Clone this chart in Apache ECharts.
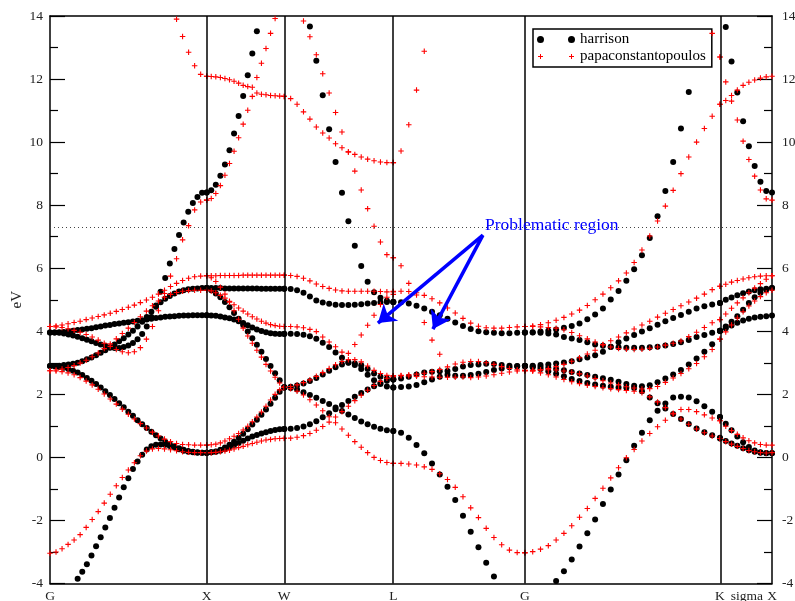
<!DOCTYPE html>
<html><head><meta charset="utf-8">
<script src="https://cdn.jsdelivr.net/npm/echarts@6/dist/echarts.min.js"></script>
<style>html,body{margin:0;padding:0;background:#fff}#c{width:795px;height:601px}</style>
</head><body><div id="c"></div>
<script>
// ---- high-symmetry points (k-path positions) ----
const kTickVals = [0, 1.0, 1.495, 2.191, 3.031, 4.276, 4.448, 4.608];
const kTickNames = ['G', 'X', 'W', 'L', 'G', 'K', 'sigma', 'X'];
const kLines = [1.0, 1.495, 2.191, 3.031, 4.276];
const fermiLevel = 7.31;
const yTicks = { min: -4, max: 14, step: 2 };

// ---- harrison (black dots) ----
// G -> X
const hGX_a = [null,null,null,null,null,null,-3.85,-3.63,-3.39,-3.11,-2.82,-2.53,-2.22,-1.92,-1.60,-1.27,-0.95,-0.66,-0.37,-0.13,0.08,0.25,0.35,0.40,0.41,0.40,0.36,0.31,0.26,0.21,0.18,0.16,0.15,0.15,0.15];
const hGX_b = [2.90,2.89,2.87,2.84,2.80,2.75,2.69,2.61,2.52,2.43,2.33,2.22,2.10,1.98,1.85,1.72,1.59,1.45,1.32,1.18,1.05,0.93,0.81,0.70,0.60,0.50,0.42,0.35,0.29,0.24,0.20,0.18,0.16,0.15,0.15];
const hGX_c = [2.90,2.90,2.91,2.93,2.95,2.97,3.00,3.05,3.11,3.17,3.24,3.32,3.40,3.48,3.58,3.68,3.78,3.90,4.02,4.15,4.30,4.45,4.62,4.78,4.92,5.03,5.12,5.20,5.26,5.30,5.33,5.35,5.36,5.37,5.37];
const hGX_d = [3.96,3.96,3.95,3.93,3.90,3.87,3.83,3.78,3.73,3.68,3.63,3.58,3.54,3.49,3.47,3.47,3.50,3.55,3.63,3.75,3.91,4.15,4.45,4.82,5.25,5.69,6.15,6.61,7.05,7.45,7.79,8.07,8.26,8.39,8.40];
const hGX_e = [3.96,3.96,3.97,3.98,4.00,4.02,4.04,4.06,4.08,4.10,4.13,4.15,4.18,4.20,4.23,4.25,4.27,4.29,4.31,4.33,4.35,4.37,4.40,4.42,4.44,4.46,4.47,4.48,4.49,4.50,4.50,4.51,4.51,4.51,4.51];
// X -> W
const hXW_a = [5.37,5.37,5.37,5.37,5.36,5.36,5.36,5.36,5.36,5.36,5.36,5.36,5.35,5.35,5.35,5.35,5.35,5.35];
const hXW_b = [5.37,5.30,5.20,5.08,4.93,4.76,4.58,4.40,4.20,3.99,3.78,3.57,3.35,3.12,2.90,2.67,2.45,2.23];
const hXW_c = [4.51,4.50,4.49,4.47,4.44,4.41,4.37,4.32,4.26,4.19,4.12,4.06,4.01,3.97,3.94,3.92,3.91,3.91];
const hXW_d = [0.15,0.16,0.18,0.21,0.26,0.32,0.39,0.46,0.53,0.60,0.66,0.71,0.76,0.80,0.84,0.87,0.89,0.90];
const hXW_e = [0.15,0.16,0.19,0.24,0.31,0.40,0.50,0.62,0.75,0.89,1.04,1.19,1.35,1.52,1.70,1.89,2.08,2.22];
const hXW_f = [8.40,8.47,8.65,8.93,9.29,9.74,10.27,10.83,11.46,12.12,12.81,13.52,null,null,null,null,null,null];
// W -> L
const hWL_a = [5.35,5.34,5.30,5.22,5.10,4.98,4.91,4.87,4.84,4.83,4.83,4.84,4.86,4.88,4.90,4.92,4.93,4.93];
const hWL_b = [3.92,3.92,3.91,3.89,3.84,3.76,3.64,3.50,3.33,3.16,3.01,2.93,2.80,2.62,2.45,2.33,2.25,2.22];
const hWL_c = [2.22,2.24,2.28,2.34,2.42,2.52,2.63,2.75,2.86,2.95,3.00,2.98,2.92,2.80,2.66,2.56,2.50,2.47];
const hWL_d = [2.22,2.20,2.15,2.07,1.98,1.89,1.79,1.69,1.58,1.47,1.36,1.25,1.14,1.05,0.97,0.91,0.86,0.84];
const hWL_e = [0.90,0.91,0.93,0.98,1.05,1.15,1.27,1.40,1.53,1.66,1.79,1.92,2.04,2.15,2.26,2.36,2.43,2.47];
const hWL_f = [null,null,null,null,13.67,12.58,11.49,10.41,9.37,8.39,7.49,6.71,6.07,5.57,5.24,5.06,4.97,4.93];
// L -> G
const hLG_a = [4.93,4.92,4.88,4.81,4.72,4.62,4.51,4.40,4.28,4.17,4.07,4.00,3.97,3.95,3.94,3.94,3.95,3.96];
const hLG_b = [2.48,2.50,2.56,2.63,2.69,2.72,2.73,2.74,2.80,2.88,2.93,2.95,2.97,2.96,2.93,2.91,2.90,2.90];
const hLG_c = [2.22,2.23,2.25,2.30,2.38,2.47,2.56,2.62,2.59,2.59,2.61,2.65,2.71,2.77,2.82,2.86,2.89,2.90];
const hLG_d = [0.84,0.78,0.62,0.39,0.13,-0.19,-0.54,-0.93,-1.35,-1.85,-2.36,-2.85,-3.34,-3.78,null,null,null,null];
// G -> K
const hGK_a = [null,null,null,null,-3.92,-3.61,-3.24,-2.83,-2.41,-1.97,-1.48,-1.02,-0.54,-0.09,0.37,0.78,1.18,1.48,1.71,1.90,1.92,1.90,1.78,1.62,1.45,1.28];
const hGK_b = [2.90,2.86,2.80,2.73,2.65,2.57,2.49,2.42,2.36,2.31,2.27,2.24,2.22,2.21,2.20,2.10,1.90,1.72,1.55,1.38,1.22,1.06,0.92,0.80,0.70,0.60];
const hGK_c = [2.90,2.91,2.93,2.95,2.98,3.01,3.05,3.11,3.17,3.24,3.35,3.50,3.65,3.77,3.88,3.99,4.10,4.21,4.32,4.42,4.52,4.62,4.72,4.79,4.85,4.90];
const hGK_d = [2.90,2.89,2.87,2.84,2.80,2.76,2.71,2.66,2.61,2.56,2.51,2.46,2.40,2.33,2.27,2.26,2.29,2.38,2.50,2.63,2.77,2.95,3.14,3.35,3.59,4.01];
const hGK_e = [3.96,3.96,3.95,3.93,3.90,3.82,3.77,3.72,3.65,3.58,3.54,3.51,3.49,3.48,3.48,3.48,3.49,3.51,3.55,3.60,3.65,3.72,3.82,3.88,3.95,4.02];
const hGK_f = [3.96,3.97,3.99,4.02,4.06,4.11,4.17,4.25,4.38,4.53,4.72,5.01,5.28,5.60,5.97,6.41,6.96,7.65,8.45,9.37,10.43,11.59,12.81,null,null,null];
// K -> X
const hKX_a = [0.62,0.52,0.44,0.37,0.29,0.23,0.18,0.15,0.14,0.14];
const hKX_b = [1.28,1.07,0.86,0.66,0.48,0.33,0.22,0.16,0.13,0.13];
const hKX_c = [4.02,4.10,4.18,4.27,4.34,4.40,4.44,4.46,4.48,4.50];
const hKX_d = [4.02,4.15,4.30,4.48,4.68,4.90,5.08,5.22,5.32,5.37];
const hKX_e = [4.90,5.00,5.07,5.14,5.21,5.26,5.30,5.33,5.35,5.37];
const hKX_f = [null,13.65,12.56,11.57,10.66,9.87,9.24,8.74,8.45,8.40];

// ---- papaconstantopoulos (red crosses) ----
// G -> X
const pGX_a = [-3.04,-3.00,-2.90,-2.76,-2.62,-2.45,-2.22,-1.97,-1.72,-1.45,-1.17,-0.90,-0.64,-0.40,-0.17,0.05,0.20,0.27,0.28,0.27,0.24,0.21,0.18,0.16,0.15,0.15,0.15];
const pGX_b = [2.75,2.74,2.72,2.68,2.62,2.53,2.42,2.30,2.16,2.01,1.85,1.69,1.53,1.37,1.22,1.07,0.93,0.80,0.68,0.58,0.50,0.44,0.41,0.40,0.39,0.39,0.39];
const pGX_c = [2.75,2.77,2.80,2.85,2.91,2.99,3.08,3.19,3.31,3.45,3.60,3.76,3.93,4.10,4.28,4.46,4.64,4.81,4.96,5.08,5.17,5.23,5.27,5.29,5.30,5.30,5.30];
const pGX_d = [4.15,4.14,4.12,4.08,4.03,3.97,3.90,3.82,3.72,3.62,3.52,3.42,3.35,3.32,3.35,3.48,3.75,4.15,4.65,5.20,5.75,6.30,6.90,7.35,7.85,8.10,8.16];
const pGX_e = [4.15,4.17,4.20,4.24,4.28,4.32,4.37,4.42,4.47,4.52,4.57,4.63,4.69,4.76,4.83,4.91,4.99,5.08,5.18,5.30,5.42,5.52,5.61,5.68,5.73,5.75,5.76];
const pGX_f = [null,null,null,null,null,null,null,null,null,null,null,null,null,null,null,null,null,null,null,null,null,13.90,13.35,12.85,12.42,12.15,12.09];
// X -> W
const pXW_a = [5.76,5.76,5.76,5.77,5.77,5.77,5.77,5.77,5.78,5.78,5.78,5.78,5.78,5.78,5.78,5.78,5.78,5.78];
const pXW_b = [5.76,5.70,5.58,5.40,5.18,4.92,4.65,4.38,4.10,3.85,3.62,3.40,3.18,2.95,2.74,2.54,2.36,2.22];
const pXW_c = [5.30,5.28,5.22,5.14,5.05,4.95,4.84,4.74,4.64,4.55,4.46,4.39,4.32,4.26,4.21,4.18,4.16,4.15];
const pXW_d = [0.15,0.15,0.16,0.18,0.20,0.23,0.27,0.31,0.35,0.40,0.44,0.48,0.52,0.55,0.57,0.59,0.60,0.61];
const pXW_e = [0.39,0.40,0.42,0.46,0.52,0.59,0.67,0.76,0.87,0.99,1.13,1.28,1.44,1.62,1.82,2.00,2.14,2.22];
const pXW_f = [8.16,8.21,8.37,8.62,8.95,9.32,9.71,10.14,10.57,11.01,11.45,12.05,12.50,12.97,13.45,13.92,null,null];
const pXW_g = [12.09,12.08,12.07,12.05,12.02,11.98,11.93,11.87,11.80,11.76,11.74,11.56,11.52,11.50,11.48,11.47,11.46,11.45];
// W -> L
const pWL_a = [0.60,0.61,0.64,0.69,0.76,0.86,0.98,1.12,1.28,1.45,1.62,1.80,1.97,2.13,2.28,2.41,2.51,2.56];
const pWL_b = [2.22,2.18,2.10,1.98,1.83,1.66,1.48,1.29,1.10,0.90,0.70,0.50,0.32,0.15,0.00,-0.10,-0.16,-0.19];
const pWL_c = [2.22,2.25,2.30,2.37,2.46,2.57,2.69,2.82,2.94,3.04,3.10,3.10,3.03,2.90,2.76,2.66,2.60,2.58];
const pWL_d = [4.15,4.15,4.14,4.11,4.06,3.99,3.82,3.66,3.51,3.34,3.30,3.58,3.88,4.19,4.51,4.85,5.08,5.17];
const pWL_e = [5.78,5.77,5.74,5.68,5.60,5.50,5.42,5.36,5.31,5.28,5.27,5.27,5.27,5.27,5.27,5.26,5.25,5.25];
const pWL_f = [11.45,11.38,11.20,10.96,10.73,10.48,10.29,10.13,9.95,9.82,9.69,9.61,9.53,9.46,9.41,9.37,9.35,9.35];
const pWL_g = [null,null,null,13.84,13.34,12.77,12.17,11.56,10.94,10.32,9.69,9.08,8.48,7.89,7.33,6.83,6.43,6.33];
// L -> G
const pLG_a = [-0.19,-0.19,-0.21,-0.24,-0.30,-0.38,-0.52,-0.70,-0.95,-1.25,-1.60,-1.91,-2.25,-2.54,-2.77,-2.94,-3.02,-3.03];
const pLG_b = [2.59,2.60,2.62,2.64,2.67,2.72,2.79,2.87,2.96,3.02,3.04,3.04,3.00,2.95,2.88,2.82,2.78,2.76];
const pLG_c = [2.59,2.59,2.58,2.57,2.56,2.55,2.54,2.54,2.54,2.55,2.53,2.55,2.58,2.62,2.67,2.71,2.74,2.76];
const pLG_d = [5.27,5.27,5.26,5.22,5.14,5.03,4.90,4.74,4.58,4.41,4.26,4.16,4.11,4.10,4.10,4.12,4.14,4.15];
const pLG_e = [6.33,6.08,5.52,5.15,4.28,3.72,3.27,null,null,null,null,null,null,null,null,null,null,null];
const pLG_f = [9.35,9.72,10.55,11.65,12.88,null,null,null,null,null,null,null,null,null,null,null,null,null];
// G -> K
const pGK_a = [-3.02,-2.99,-2.91,-2.80,-2.62,-2.41,-2.17,-1.90,-1.62,-1.30,-0.98,-0.65,-0.33,-0.01,0.25,0.52,0.76,0.97,1.18,1.38,1.52,1.52,1.45,1.35,1.25,1.16];
const pGK_b = [2.75,2.73,2.68,2.62,2.55,2.47,2.40,2.34,2.29,2.25,2.21,2.18,2.15,2.12,2.10,2.05,1.92,1.76,1.58,1.40,1.22,1.05,0.90,0.78,0.68,0.60];
const pGK_c = [2.75,2.76,2.77,2.78,2.77,2.74,2.70,2.65,2.58,2.50,2.43,2.36,2.30,2.24,2.20,2.17,2.18,2.25,2.38,2.52,2.66,2.81,2.98,3.19,3.42,3.75];
const pGK_d = [2.75,2.76,2.78,2.82,2.88,2.95,3.05,3.16,3.28,3.40,3.58,3.70,3.82,3.95,4.07,4.20,4.32,4.45,4.57,4.69,4.81,4.93,5.05,5.18,5.32,5.43];
const pGK_e = [4.15,4.15,4.14,4.12,4.10,4.05,3.96,3.86,3.76,3.66,3.57,3.50,3.45,3.43,3.42,3.43,3.46,3.50,3.56,3.62,3.69,3.83,3.97,4.12,4.27,4.37];
const pGK_f = [4.15,4.17,4.21,4.27,4.35,4.44,4.55,4.67,4.82,5.00,5.18,5.38,5.60,5.85,6.18,6.58,7.02,7.50,7.97,8.47,9.00,9.53,10.00,10.43,10.82,11.20];
const pGK_g = [null,null,null,null,null,null,null,null,null,null,null,null,null,null,null,null,null,null,null,null,null,null,null,null,13.45,12.70];
// K -> X
const pKX_a = [0.60,0.50,0.42,0.35,0.28,0.22,0.18,0.15,0.14,0.15];
const pKX_b = [1.16,0.99,0.85,0.73,0.62,0.53,0.46,0.41,0.39,0.39];
const pKX_c = [3.75,3.98,4.20,4.42,4.62,4.80,4.96,5.10,5.22,5.30];
const pKX_d = [4.37,4.55,4.73,4.90,5.06,5.22,5.37,5.51,5.65,5.76];
const pKX_e = [5.43,5.49,5.56,5.61,5.66,5.70,5.73,5.75,5.76,5.76];
const pKX_f = [11.20,11.32,11.48,11.65,11.80,11.90,11.97,12.03,12.07,12.09];
const pKX_g = [12.70,11.91,11.30,10.70,10.03,9.45,8.92,8.48,8.20,8.16];

// ---- annotation ----
const noteText = 'Problematic region';
const noteAnchor = [2.776, 7.37];
const arrowFrom = [2.763, 7.05];
const arrowTips = [[2.093, 4.26], [2.444, 4.07]];

// ---------------------------------------------------------------
const K = { G: 0, X: 1.0, W: 1.495, L: 2.191, G2: 3.031, Kp: 4.276, X2: 4.608 };
function addSeg(out, k0, k1, bands) {
  bands.forEach(b => {
    const n = b.length;
    b.forEach((v, i) => { if (v !== null) out.push([k0 + (k1 - k0) * i / (n - 1), v]); });
  });
}
const hData = [], pData = [];
addSeg(hData, K.G, K.X, [hGX_a, hGX_b, hGX_c, hGX_d, hGX_e]);
addSeg(hData, K.X, K.W, [hXW_a, hXW_b, hXW_c, hXW_d, hXW_e, hXW_f]);
addSeg(hData, K.W, K.L, [hWL_a, hWL_b, hWL_c, hWL_d, hWL_e, hWL_f]);
addSeg(hData, K.L, K.G2, [hLG_a, hLG_b, hLG_c, hLG_d]);
addSeg(hData, K.G2, K.Kp, [hGK_a, hGK_b, hGK_c, hGK_d, hGK_e, hGK_f]);
addSeg(hData, K.Kp, K.X2, [hKX_a, hKX_b, hKX_c, hKX_d, hKX_e, hKX_f]);
addSeg(pData, K.G, K.X, [pGX_a, pGX_b, pGX_c, pGX_d, pGX_e, pGX_f]);
addSeg(pData, K.X, K.W, [pXW_a, pXW_b, pXW_c, pXW_d, pXW_e, pXW_f, pXW_g]);
addSeg(pData, K.W, K.L, [pWL_a, pWL_b, pWL_c, pWL_d, pWL_e, pWL_f, pWL_g]);
addSeg(pData, K.L, K.G2, [pLG_a, pLG_b, pLG_c, pLG_d, pLG_e, pLG_f]);
addSeg(pData, K.G2, K.Kp, [pGK_a, pGK_b, pGK_c, pGK_d, pGK_e, pGK_f, pGK_g]);
addSeg(pData, K.Kp, K.X2, [pKX_a, pKX_b, pKX_c, pKX_d, pKX_e, pKX_f, pKX_g]);

const FONT = '"Liberation Serif", "Times New Roman", serif';
const PLUS = 'path://M2,0H3V2H5V3H3V5H2V3H0V2H2Z';
const LEG_DOTS = 'path://M0,3.5A3.5,3.5,0,1,0,7,3.5A3.5,3.5,0,1,0,0,3.5ZM31,3.5A3.5,3.5,0,1,0,38,3.5A3.5,3.5,0,1,0,31,3.5Z';
const LEG_PLUS = 'path://M0,0H0.01V0.01H0Z M37.99,6.99H38V7H37.99Z M3,1H4V3H6V4H4V6H3V4H1V3H3Z M34,1H35V3H37V4H35V6H34V4H32V3H34Z';

function yAxisCfg(pos) {
  return {
    type: 'value', position: pos, min: yTicks.min, max: yTicks.max, interval: yTicks.step,
    axisLine: { show: true, onZero: false, lineStyle: { color: '#000', width: 1.5 } },
    axisTick: { show: true, inside: true, length: 15, lineStyle: { color: '#000', width: 1.2 } },
    minorTick: { show: true, splitNumber: 2, length: 8, lineStyle: { color: '#000', width: 1.2 } },
    axisLabel: { color: '#222', fontFamily: FONT, fontSize: 13.5, margin: pos === 'left' ? 7 : 10 },
    splitLine: { show: false },
    name: pos === 'left' ? 'eV' : '', nameLocation: 'middle', nameGap: 25, nameRotate: 90,
    nameMoveOverlap: false,
    nameTextStyle: { color: '#222', fontFamily: FONT, fontSize: 15 }
  };
}

const chart = echarts.init(document.getElementById('c'), null, { renderer: 'canvas' });
chart.setOption({
  animation: false,
  backgroundColor: '#fff',
  grid: { left: 50, right: 23, top: 16, bottom: 17.5, containLabel: false, outerBoundsMode: 'none' },
  xAxis: [{
    type: 'value', min: K.G, max: K.X2, position: 'bottom',
    axisLine: { show: true, onZero: false, lineStyle: { color: '#000', width: 1.5 } },
    axisTick: { show: false }, splitLine: { show: false },
    axisLabel: {
      customValues: kTickVals, color: '#222', fontFamily: FONT, fontSize: 13.5, margin: 6,
      formatter: v => { let b = 0; kTickVals.forEach((t, i) => { if (Math.abs(t - v) < Math.abs(kTickVals[b] - v)) b = i; }); return kTickNames[b]; }
    }
  }, {
    type: 'value', min: K.G, max: K.X2, position: 'top',
    axisLine: { show: true, onZero: false, lineStyle: { color: '#000', width: 1.5 } },
    axisTick: { show: false }, axisLabel: { show: false }, splitLine: { show: false }
  }],
  yAxis: [yAxisCfg('left'), yAxisCfg('right')],
  legend: {
    orient: 'vertical', left: 533, top: 29, padding: [3, 6, 3, 4], itemGap: 2,
    itemWidth: 38, itemHeight: 7,
    backgroundColor: '#fff', borderColor: '#000', borderWidth: 1.5, borderRadius: 0,
    textStyle: { fontFamily: FONT, fontSize: 15, color: '#000' },
    data: [{ name: 'harrison', icon: LEG_DOTS }, { name: 'papaconstantopoulos', icon: LEG_PLUS }]
  },
  series: [
    {
      name: 'guides', type: 'line', data: [], silent: true, z: 1,
      markLine: {
        silent: true, symbol: ['none', 'none'], label: { show: false }, animation: false,
        data: kLines.map(x => ({ xAxis: x, lineStyle: { color: '#000', width: 1.5, type: 'solid' } }))
          .concat([{ yAxis: fermiLevel, lineStyle: { color: '#444', width: 1, type: [1, 3] } }])
      }
    },
    {
      name: 'harrison', type: 'scatter', data: hData, symbol: 'circle', symbolSize: 6,
      itemStyle: { color: '#000', opacity: 1 }, z: 3, clip: true
    },
    {
      name: 'papaconstantopoulos', type: 'scatter', data: pData, symbol: PLUS, symbolSize: 5.5,
      itemStyle: { color: '#ff0000', opacity: 1 }, z: 4, clip: true
    },
    {
      name: 'note', type: 'line', data: [], silent: true, z: 6,
      markLine: {
        silent: true, animation: false, symbol: ['none', 'arrow'], symbolSize: 17,
        label: { show: false },
        lineStyle: { color: '#0000ff', width: 3.5, type: 'solid' },
        data: arrowTips.map(t => [{ coord: arrowFrom }, { coord: t }])
      },
      markPoint: {
        silent: true, animation: false, symbol: 'circle', symbolSize: 0,
        data: [{ coord: noteAnchor }],
        label: { show: true, position: 'right', distance: 0, formatter: noteText, color: '#0000ff', fontFamily: FONT, fontSize: 17.5 }
      }
    }
  ]
});
</script></body></html>
